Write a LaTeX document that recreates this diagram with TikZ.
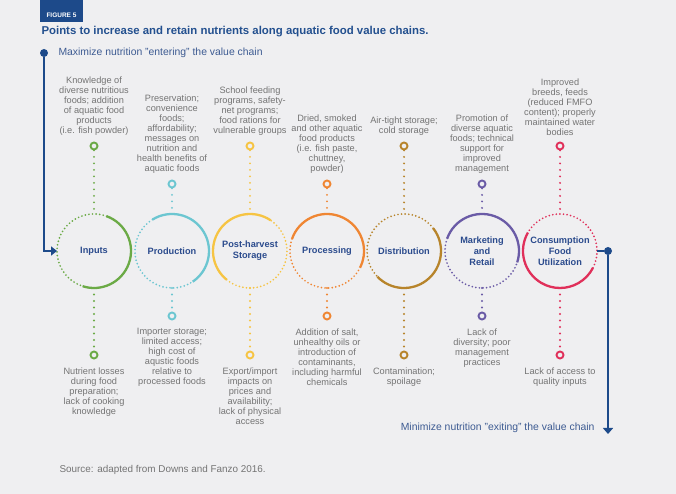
\documentclass[tikz,border=0pt]{standalone}
\usepackage{fontspec}
\setmainfont{Liberation Sans}
\usetikzlibrary{arrows.meta,positioning}

\definecolor{bg}{HTML}{EFEFF1}
\definecolor{navy}{HTML}{1D4A8A}
\definecolor{headblue}{HTML}{23508F}
\definecolor{stagetext}{HTML}{2B4B8D}
\definecolor{flowtext}{HTML}{3D5B92}
\definecolor{notegrey}{HTML}{747474}
\definecolor{cinputs}{HTML}{6BAA46}
\definecolor{cproduction}{HTML}{6CC6D1}
\definecolor{cstorage}{HTML}{F6C443}
\definecolor{cprocessing}{HTML}{EF8633}
\definecolor{cdistribution}{HTML}{B7842B}
\definecolor{cmarketing}{HTML}{6A5BA6}
\definecolor{cconsumption}{HTML}{E0305A}

\begin{document}
\begin{tikzpicture}[x=1pt, y=1pt]
  \tikzstyle{stage} = [circle, inner sep=0pt, outer sep=0pt, minimum size=74pt, align=center,
                       text=stagetext, font=\fontsize{9.2}{11}\selectfont\bfseries]
  \tikzstyle{point} = [circle, draw, line width=1.9pt, inner sep=0pt, minimum size=7pt]
  \tikzstyle{note} = [align=center, text=notegrey, inner sep=0pt, font=\fontsize{9.2}{10}\selectfont]
  \tikzstyle{link} = [line width=2.1pt, line cap=round, dash pattern=on 0pt off 6.5pt]
  \tikzstyle{full arc} = [line width=2.3pt]
  \tikzstyle{dot arc} = [line width=1.9pt, line cap=round, dash pattern=on 0pt off 3.6pt]
  \tikzstyle{flow} = [navy, line width=2pt]

  \useasboundingbox[fill=bg] (0,0) rectangle (676,494);

  \def\Y{243};   % stage row
  \def\Yhi{348}; % upper points, odd stages
  \def\Ymh{310}; % upper points, even stages
  \def\Yml{178}; % lower points, even stages
  \def\Ylo{139}; % lower points, odd stages

  % heading
  \fill[navy] (40,472) rectangle (83,494);
  \node[text=white, font=\fontsize{6.5}{7}\selectfont\bfseries] (figno) at (61.5,479) {FIGURE 5};
  \node[anchor=west, text=headblue, font=\fontsize{11.4}{13}\selectfont\bfseries] (title) at (38,462)
    {Points to increase and retain nutrients along aquatic food value chains.};

  % stages
  \node[stage] (inputs)       at (94,  \Y) {Inputs};
  \node[stage] (production)   at (172, \Y) {Production};
  \node[stage] (storage)      at (250, \Y) {Post-harvest\\Storage};
  \node[stage] (processing)   at (327, \Y) {Processing};
  \node[stage] (distribution) at (404, \Y) {Distribution};
  \node[stage] (marketing)    at (482, \Y) {Marketing\\and\\Retail};
  \node[stage] (consumption)  at (560, \Y) {Consumption\\Food\\Utilization};

  % stage rings
  \draw[full arc, cinputs] (inputs.70) arc[start angle=70, end angle=-108, radius=37];
  \draw[dot arc, cinputs] (inputs.70) arc[start angle=70, end angle=252, radius=37];
  \draw[full arc, cproduction] (production.122) arc[start angle=122, end angle=-56, radius=37];
  \draw[dot arc, cproduction] (production.122) arc[start angle=122, end angle=304, radius=37];
  \draw[full arc, cstorage] (storage.56) arc[start angle=56, end angle=231, radius=37];
  \draw[dot arc, cstorage] (storage.231) arc[start angle=231, end angle=416, radius=37];
  \draw[full arc, cprocessing] (processing.161) arc[start angle=161, end angle=-27, radius=37];
  \draw[dot arc, cprocessing] (processing.161) arc[start angle=161, end angle=333, radius=37];
  \draw[full arc, cdistribution] (distribution.38) arc[start angle=38, end angle=-136, radius=37];
  \draw[dot arc, cdistribution] (distribution.38) arc[start angle=38, end angle=224, radius=37];
  \draw[full arc, cmarketing] (marketing.160) arc[start angle=160, end angle=-18, radius=37];
  \draw[dot arc, cmarketing] (marketing.160) arc[start angle=160, end angle=342, radius=37];
  \draw[full arc, cconsumption] (consumption.150) arc[start angle=150, end angle=333, radius=37];
  \draw[dot arc, cconsumption] (consumption.333) arc[start angle=333, end angle=510, radius=37];

  % upper points
  \node[point, cinputs]       (inputs-up)       at (94,  \Yhi) {};
  \node[point, cproduction]   (production-up)   at (172, \Ymh) {};
  \node[point, cstorage]      (storage-up)      at (250, \Yhi) {};
  \node[point, cprocessing]   (processing-up)   at (327, \Ymh) {};
  \node[point, cdistribution] (distribution-up) at (404, \Yhi) {};
  \node[point, cmarketing]    (marketing-up)    at (482, \Ymh) {};
  \node[point, cconsumption]  (consumption-up)  at (560, \Yhi) {};

  % lower points
  \node[point, cinputs]       (inputs-dn)       at (94,  \Ylo) {};
  \node[point, cproduction]   (production-dn)   at (172, \Yml) {};
  \node[point, cstorage]      (storage-dn)      at (250, \Ylo) {};
  \node[point, cprocessing]   (processing-dn)   at (327, \Yml) {};
  \node[point, cdistribution] (distribution-dn) at (404, \Ylo) {};
  \node[point, cmarketing]    (marketing-dn)    at (482, \Yml) {};
  \node[point, cconsumption]  (consumption-dn)  at (560, \Ylo) {};

  % dotted links
  \draw[link, cinputs]       (inputs-up) -- (inputs) -- (inputs-dn);
  \draw[link, cproduction]   (production-up) -- (production) -- (production-dn);
  \draw[link, cstorage]      (storage-up) -- (storage) -- (storage-dn);
  \draw[link, cprocessing]   (processing-up) -- (processing) -- (processing-dn);
  \draw[link, cdistribution] (distribution-up) -- (distribution) -- (distribution-dn);
  \draw[link, cmarketing]    (marketing-up) -- (marketing) -- (marketing-dn);
  \draw[link, cconsumption]  (consumption-up) -- (consumption) -- (consumption-dn);

  % upper notes
  \node[note, above=6pt of inputs-up] (inputs-gain)
    {Knowledge of\\diverse nutritious\\foods; addition\\of aquatic food\\products\\(i.e. fish powder)};
  \node[note, above=6pt of production-up] (production-gain)
    {Preservation;\\convenience\\foods;\\affordability;\\messages on\\nutrition and\\health benefits of\\aquatic foods};
  \node[note, above=6pt of storage-up] (storage-gain)
    {School feeding\\programs, safety-\\net programs;\\food rations for\\vulnerable groups};
  \node[note, above=6pt of processing-up] (processing-gain)
    {Dried, smoked\\and other aquatic\\food products\\(i.e. fish paste,\\chuttney,\\powder)};
  \node[note, above=6pt of distribution-up] (distribution-gain)
    {Air-tight storage;\\cold storage};
  \node[note, above=6pt of marketing-up] (marketing-gain)
    {Promotion of\\diverse aquatic\\foods; technical\\support for\\improved\\management};
  \node[note, above=6pt of consumption-up] (consumption-gain)
    {Improved\\breeds, feeds\\(reduced FMFO\\content); properly\\maintained water\\bodies};

  % lower notes
  \node[note, below=8pt of inputs-dn] (inputs-loss)
    {Nutrient losses\\during food\\preparation;\\lack of cooking\\knowledge};
  \node[note, below=8pt of production-dn] (production-loss)
    {Importer storage;\\limited access;\\high cost of\\aqustic foods\\relative to\\processed foods};
  \node[note, below=8pt of storage-dn] (storage-loss)
    {Export/import\\impacts on\\prices and\\availability;\\lack of physical\\access};
  \node[note, below=8pt of processing-dn] (processing-loss)
    {Addition of salt,\\unhealthy oils or\\introduction of\\contaminants,\\including harmful\\chemicals};
  \node[note, below=8pt of distribution-dn] (distribution-loss)
    {Contamination;\\spoilage};
  \node[note, below=8pt of marketing-dn] (marketing-loss)
    {Lack of\\diversity; poor\\management\\practices};
  \node[note, below=8pt of consumption-dn] (consumption-loss)
    {Lack of access to\\quality inputs};

  % entering / exiting flow
  \node[circle, fill=navy, inner sep=0pt, minimum size=8pt] (enter) at (44,441) {};
  \node[anchor=west, text=flowtext, font=\fontsize{10.4}{12}\selectfont] (enter-text) at (55,441)
    {Maximize nutrition "entering" the value chain};
  \draw[flow, -{Triangle[width=9pt, length=6pt]}] (enter) |- (inputs);

  \node[circle, fill=navy, inner sep=0pt, minimum size=8pt] (leave) at (608,\Y) {};
  \coordinate (leave-end) at (608,60);
  \draw[flow] (consumption) -- (leave);
  \draw[flow, -{Triangle[width=10pt, length=6pt]}] (leave) -- (leave-end);
  \node[anchor=east, text=flowtext, font=\fontsize{10.4}{12}\selectfont] (leave-text) at (598,66)
    {Minimize nutrition "exiting" the value chain};

  % source
  \node[anchor=west, text=notegrey, font=\fontsize{9.9}{11}\selectfont] (source) at (56,24)
    {Source: adapted from Downs and Fanzo 2016.};

\end{tikzpicture}
\end{document}
